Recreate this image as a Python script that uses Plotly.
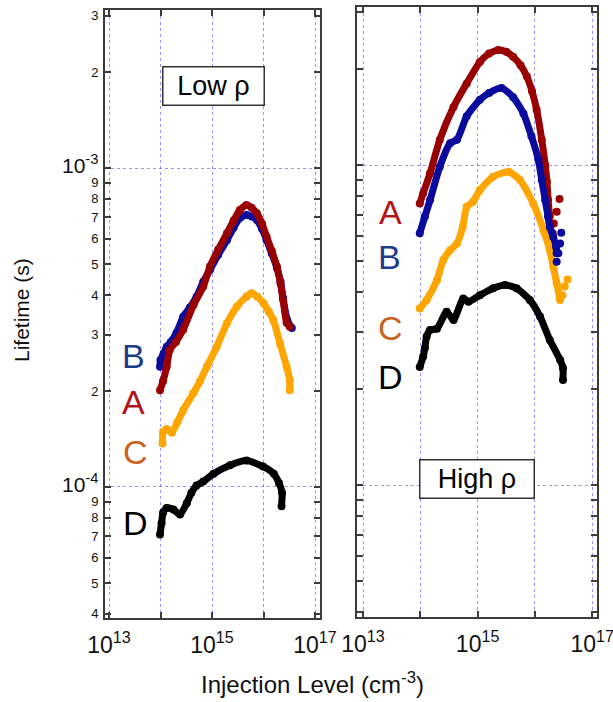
import numpy as np
import plotly.graph_objects as go

# ---------------- data (injection level as log10 exponent, lifetime in s) ----------------
# Low rho panel
low_A_logx = [13.99, 14.05, 14.12, 14.18, 14.30, 14.44, 14.64, 14.83, 14.96, 15.12, 15.29, 15.42, 15.54, 15.67, 15.77, 15.87, 15.97, 16.06, 16.16, 16.26, 16.33, 16.38, 16.45, 16.51]
low_A_tau = [2.01e-4, 2.15e-4, 2.38e-4, 2.69e-4, 2.85e-4, 3.11e-4, 3.72e-4, 4.25e-4, 4.91e-4, 5.55e-4, 6.24e-4, 6.85e-4, 7.38e-4, 7.66e-4, 7.50e-4, 7.21e-4, 6.70e-4, 6.09e-4, 5.50e-4, 4.91e-4, 4.35e-4, 3.86e-4, 3.27e-4, 3.18e-4]

low_B_logx = [13.99, 14.00, 14.06, 14.12, 14.20, 14.31, 14.44, 14.57, 14.70, 14.83, 14.96, 15.12, 15.29, 15.42, 15.54, 15.67, 15.77, 15.87, 15.97, 16.06, 16.16, 16.26, 16.33, 16.38, 16.46, 16.55]
low_B_tau = [2.38e-4, 2.50e-4, 2.62e-4, 2.75e-4, 2.85e-4, 3.04e-4, 3.42e-4, 3.65e-4, 3.95e-4, 4.40e-4, 4.79e-4, 5.35e-4, 5.94e-4, 6.50e-4, 6.97e-4, 7.12e-4, 7.05e-4, 6.87e-4, 6.45e-4, 5.94e-4, 5.40e-4, 4.86e-4, 4.40e-4, 3.91e-4, 3.34e-4, 3.15e-4]

low_C_logx = [14.04, 14.05, 14.12, 14.22, 14.33, 14.44, 14.64, 14.77, 14.90, 15.09, 15.29, 15.48, 15.67, 15.77, 15.88, 16.00, 16.10, 16.19, 16.32, 16.45, 16.51, 16.51]
low_C_tau = [1.37e-4, 1.49e-4, 1.52e-4, 1.48e-4, 1.60e-4, 1.74e-4, 1.97e-4, 2.15e-4, 2.38e-4, 2.75e-4, 3.26e-4, 3.67e-4, 3.95e-4, 4.05e-4, 3.95e-4, 3.77e-4, 3.55e-4, 3.34e-4, 2.82e-4, 2.38e-4, 2.16e-4, 2.01e-4]

low_D_logx = [13.99, 14.02, 14.05, 14.12, 14.25, 14.38, 14.51, 14.60, 14.70, 14.83, 15.03, 15.35, 15.67, 15.99, 16.20, 16.30, 16.36, 16.35]
low_D_tau = [7.1e-5, 7.7e-5, 8.3e-5, 8.6e-5, 8.5e-5, 8.2e-5, 8.9e-5, 9.6e-5, 1.01e-4, 1.04e-4, 1.10e-4, 1.17e-4, 1.21e-4, 1.16e-4, 1.10e-4, 1.03e-4, 9.6e-5, 8.7e-5]

# High rho panel
high_A_logx = [13.99, 14.05, 14.17, 14.34, 14.58, 14.81, 15.04, 15.20, 15.36, 15.50, 15.62, 15.75, 15.86, 15.95, 16.03, 16.12, 16.18, 16.21, 16.23, 16.26]
high_A_tau = [7.59e-4, 8.16e-4, 9.42e-4, 1.20e-3, 1.52e-3, 1.80e-3, 2.10e-3, 2.23e-3, 2.29e-3, 2.26e-3, 2.18e-3, 2.05e-3, 1.89e-3, 1.70e-3, 1.49e-3, 1.20e-3, 1.00e-3, 8.87e-4, 7.77e-4, 6.90e-4]
high_A_tail_logx = [16.43, 16.38, 16.33, 16.31]
high_A_tail_tau = [7.83e-4, 7.15e-4, 6.57e-4, 6.12e-4]

high_B_logx = [13.99, 14.08, 14.17, 14.34, 14.52, 14.64, 14.81, 15.04, 15.20, 15.42, 15.62, 15.80, 15.94, 16.06, 16.12, 16.18, 16.23, 16.26, 16.32, 16.37, 16.38]
high_B_tau = [6.12e-4, 6.90e-4, 7.77e-4, 9.88e-4, 1.17e-3, 1.20e-3, 1.42e-3, 1.60e-3, 1.68e-3, 1.74e-3, 1.63e-3, 1.45e-3, 1.23e-3, 1.04e-3, 8.98e-4, 7.77e-4, 6.90e-4, 6.40e-4, 5.97e-4, 5.55e-4, 5.30e-4]
high_B_tail_logx = [16.46, 16.44, 16.41, 16.38]
high_B_tail_tau = [6.14e-4, 5.69e-4, 5.30e-4, 4.99e-4]

high_C_logx = [13.99, 14.11, 14.29, 14.40, 14.52, 14.64, 14.74, 14.81, 14.92, 15.04, 15.27, 15.54, 15.74, 15.97, 16.15, 16.26, 16.32, 16.38, 16.44]
high_C_tau = [3.56e-4, 3.79e-4, 4.37e-4, 5.05e-4, 5.42e-4, 5.69e-4, 6.40e-4, 7.41e-4, 7.68e-4, 8.35e-4, 9.19e-4, 9.53e-4, 8.98e-4, 7.59e-4, 6.26e-4, 5.42e-4, 4.81e-4, 4.27e-4, 3.79e-4]
high_C_tail_logx = [16.57, 16.52, 16.48]
high_C_tail_tau = [4.39e-4, 4.17e-4, 3.92e-4]

high_D_logx = [13.99, 14.05, 14.08, 14.11, 14.17, 14.29, 14.46, 14.58, 14.75, 14.84, 15.04, 15.27, 15.48, 15.68, 15.91, 16.09, 16.26, 16.44, 16.49, 16.49]
high_D_tau = [2.34e-4, 2.52e-4, 2.68e-4, 2.91e-4, 3.05e-4, 3.08e-4, 3.48e-4, 3.28e-4, 3.83e-4, 3.74e-4, 3.92e-4, 4.12e-4, 4.22e-4, 4.12e-4, 3.79e-4, 3.36e-4, 2.84e-4, 2.46e-4, 2.32e-4, 2.13e-4]

# Tick values / labels
x_tickvals = [1e13, 1e14, 1e15, 1e16, 1e17]
x_ticktext = ["10<sup>13</sup>", " ", "10<sup>15</sup>", " ", "10<sup>17</sup>"]
y_tickvals = [4e-5, 5e-5, 6e-5, 7e-5, 8e-5, 9e-5, 1e-4, 2e-4, 3e-4, 4e-4, 5e-4, 6e-4, 7e-4, 8e-4, 9e-4, 1e-3, 2e-3, 3e-3]
y_ticktext = ["4", "5", "6", "7", "8", "9", "<span style='font-size:21px'>10<sup>-4</sup></span>",
              "2", "3", "4", "5", "6", "7", "8", "9", "<span style='font-size:21px'>10<sup>-3</sup></span>",
              "2", "3"]
y_gridvals = [1e-4, 1e-3]

# ---------------- styling ----------------
COL = {"A": "#990000", "B": "#0a0a9c", "C": "#ffa500", "D": "#000000"}
LBL = {"A": "#b3141c", "B": "#1d3c8c", "C": "#c8621c", "D": "#000000"}
FONT = "Liberation Sans, Arial, Helvetica, sans-serif"
W, H = 613, 702

fig = go.Figure()


def add_curve(logx, tau, key, xa, ya, mode="lines+markers"):
    fig.add_trace(go.Scatter(
        x=10 ** np.array(logx), y=tau, xaxis=xa, yaxis=ya, mode=mode,
        line=dict(color=COL[key], width=7, shape="spline", smoothing=0.6),
        marker=dict(color=COL[key], size=8),
        showlegend=False, hoverinfo="skip"))


# left panel
add_curve(low_D_logx, low_D_tau, "D", "x", "y")
add_curve(low_C_logx, low_C_tau, "C", "x", "y")
add_curve(low_B_logx, low_B_tau, "B", "x", "y")
add_curve(low_A_logx, low_A_tau, "A", "x", "y")
# right panel
add_curve(high_D_logx, high_D_tau, "D", "x2", "y2")
add_curve(high_C_logx, high_C_tau, "C", "x2", "y2")
add_curve(high_C_tail_logx, high_C_tail_tau, "C", "x2", "y2", mode="markers")
add_curve(high_A_logx, high_A_tau, "A", "x2", "y2")
add_curve(high_A_tail_logx, high_A_tail_tau, "A", "x2", "y2", mode="markers")
add_curve(high_B_logx, high_B_tau, "B", "x2", "y2")
add_curve(high_B_tail_logx, high_B_tail_tau, "B", "x2", "y2", mode="markers")

# empty traces to anchor the grid-only overlay axes
fig.add_trace(go.Scatter(x=[None], y=[None], xaxis="x", yaxis="y3", showlegend=False, hoverinfo="skip"))
fig.add_trace(go.Scatter(x=[None], y=[None], xaxis="x2", yaxis="y4", showlegend=False, hoverinfo="skip"))

LINE_C = "#3c3c3c"
GRID_C = "rgba(90,90,255,0.65)"

left_dom_x = [105 / W, 320 / W]
left_dom_y = [1 - 618 / H, 1 - 10 / H]
right_dom_x = [357 / W, 597 / W]
right_dom_y = [1 - 617 / H, 1 - 7 / H]

common_x = dict(type="log", tickvals=x_tickvals, ticktext=x_ticktext, ticks="inside", ticklen=6,
                tickwidth=1.5, tickcolor=LINE_C, showline=True, linecolor=LINE_C, linewidth=2,
                mirror="ticks", showgrid=True, gridcolor=GRID_C, griddash="dot", gridwidth=1,
                zeroline=False, tickfont=dict(family=FONT, size=23, color="#111111"),
                ticklabelstandoff=5, automargin=False, ticklabeloverflow="allow")
common_y = dict(type="log", tickvals=y_tickvals, ticks="inside", ticklen=6, tickwidth=1.5,
                tickcolor=LINE_C, showline=True, linecolor=LINE_C, linewidth=2, mirror="ticks",
                showgrid=False, zeroline=False, tickfont=dict(family=FONT, size=13, color="#111111"),
                automargin=False, ticklabeloverflow="allow")
grid_y = dict(type="log", tickvals=y_gridvals, ticks="", showticklabels=False, showline=False,
              showgrid=True, gridcolor=GRID_C, griddash="dot", gridwidth=1, zeroline=False,
              automargin=False)

fig.update_layout(
    width=W, height=H, margin=dict(l=0, r=0, t=0, b=0, autoexpand=False),
    paper_bgcolor="white", plot_bgcolor="white",
    xaxis=dict(common_x, domain=left_dom_x, range=[12.922, 17.097], anchor="y"),
    yaxis=dict(common_y, domain=left_dom_y, range=[-4.4107, -2.5047], anchor="x",
               ticktext=y_ticktext, ticklabelstandoff=2),
    xaxis2=dict(common_x, domain=right_dom_x, range=[12.895, 17.084], anchor="y2"),
    yaxis2=dict(common_y, domain=right_dom_y, range=[-4.4125, -2.506], anchor="x2",
                showticklabels=False),
    yaxis3=dict(grid_y, overlaying="y", range=[-4.4107, -2.5047], anchor="x"),
    yaxis4=dict(grid_y, overlaying="y2", range=[-4.4125, -2.506], anchor="x2"),
)


def pa(px, py):
    return dict(x=px / W, y=1 - py / H, xref="paper", yref="paper", showarrow=False,
                xanchor="center", yanchor="middle")


ann = []
# panel boxes
ann.append(dict(pa(213, 85.5), text="Low ρ", font=dict(family=FONT, size=27, color="#000000"),
                bordercolor="#333333", borderwidth=1.5, bgcolor="white", width=100, height=37, borderpad=0))
ann.append(dict(pa(477, 479), text="High ρ", font=dict(family=FONT, size=27, color="#000000"),
                bordercolor="#333333", borderwidth=1.5, bgcolor="white", width=113, height=37, borderpad=0))
# series letters
letters = [("B", 133, 356), ("A", 133, 402), ("C", 135, 452), ("D", 135, 523),
           ("A", 390, 212), ("B", 389, 257), ("C", 390, 328), ("D", 390, 377)]
for t, px, py in letters:
    ann.append(dict(pa(px, py), text=t, font=dict(family=FONT, size=34, color=LBL[t])))
# axis titles
ann.append(dict(pa(21, 310), text="Lifetime (s)", textangle=-90,
                font=dict(family=FONT, size=21, color="#111111")))
ann.append(dict(pa(313, 683), text="Injection Level (cm<sup>-3</sup>)",
                font=dict(family=FONT, size=24, color="#111111")))
fig.update_layout(annotations=ann)

fig.write_html("out.html", config={"displayModeBar": False},
               post_script="document.body.style.margin='0px';")
